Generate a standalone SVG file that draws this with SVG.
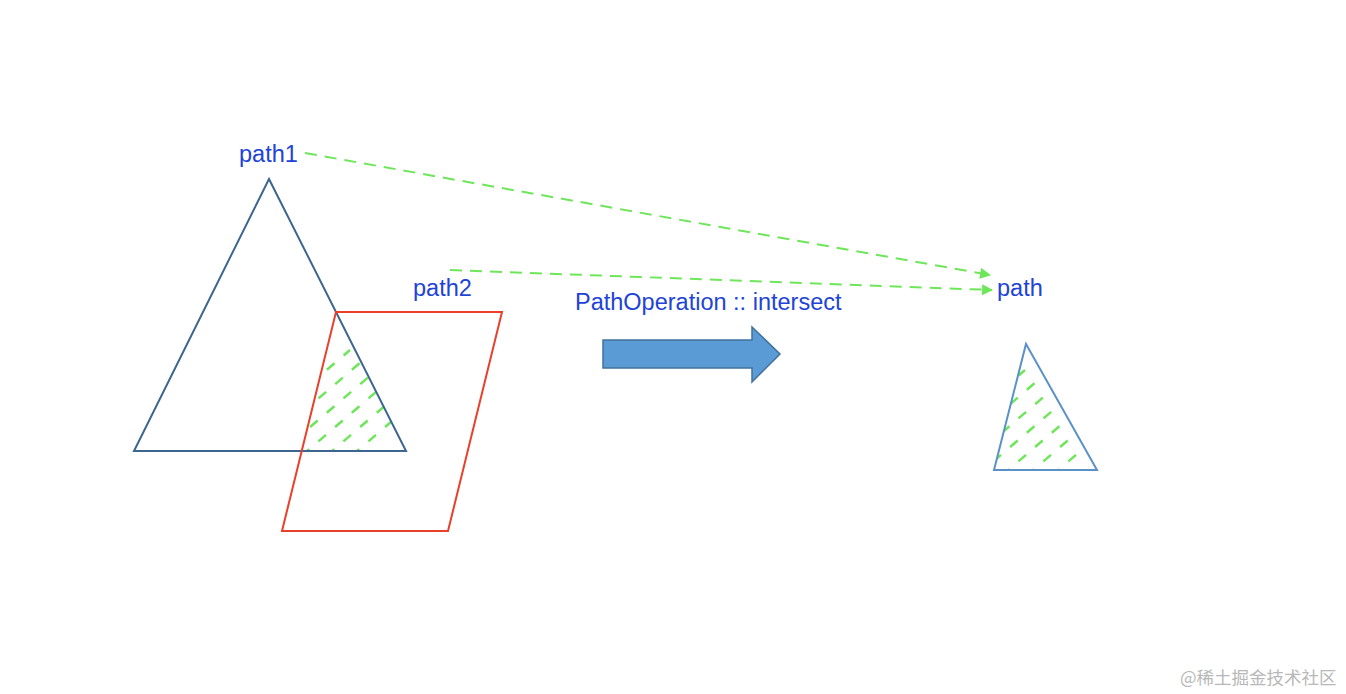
<svg xmlns="http://www.w3.org/2000/svg" width="1346" height="694" viewBox="0 0 1346 694">
<style>
.lbl{font-family:"Liberation Sans",Arial,sans-serif;font-size:23.5px;fill:#2143d6}
.hatch{stroke:#6ee65a;stroke-width:2.5;stroke-dasharray:10 12;fill:none}
.conn{stroke:#6ee65a;stroke-width:2;stroke-dasharray:12 8;fill:none}
</style>
<defs>
<marker id="ah" viewBox="0 0 10 10" refX="9" refY="5" markerWidth="12" markerHeight="11" orient="auto" markerUnits="userSpaceOnUse"><path d="M0,0L10,5L0,10z" fill="#6ee65a"/></marker>
<clipPath id="c1"><polygon points="336,312 406,451 302,451"/></clipPath>
<clipPath id="c2"><polygon points="1026,344 1097,470 994,470"/></clipPath>
</defs>
<rect width="1346" height="694" fill="#fff"/>
<g id="hatch1" clip-path="url(#c1)">
<g class="hatch">
<line x1="260" y1="470" x2="400" y2="350"/><line x1="285" y1="470" x2="425" y2="350"/><line x1="310" y1="470" x2="450" y2="350"/><line x1="335" y1="470" x2="475" y2="350"/><line x1="235" y1="470" x2="375" y2="350"/><line x1="210" y1="470" x2="350" y2="350"/><line x1="185" y1="470" x2="325" y2="350"/>
</g></g>
<g id="hatch2" clip-path="url(#c2)">
<g class="hatch">
<line x1="960" y1="490" x2="1100" y2="370"/><line x1="985" y1="490" x2="1125" y2="370"/><line x1="1010" y1="490" x2="1150" y2="370"/><line x1="1035" y1="490" x2="1175" y2="370"/><line x1="935" y1="490" x2="1075" y2="370"/><line x1="910" y1="490" x2="1050" y2="370"/><line x1="885" y1="490" x2="1025" y2="370"/>
</g></g>
<g id="path1"><polygon points="269,179 406,451 134,451" fill="none" stroke="#3c6690" stroke-width="2"/><text class="lbl" x="239" y="162">path1</text></g>
<g id="path2"><polygon points="336,312 502,312 448,531 282,531" fill="none" stroke="#e8402a" stroke-width="2"/><text class="lbl" x="413" y="296">path2</text></g>
<g id="op"><polygon points="603,340 752,340 752,327 780,354 752,382 752,368 603,368" fill="#5b9bd5" stroke="#41719c" stroke-width="1.5"/><text class="lbl" x="575" y="310">PathOperation :: intersect</text></g>
<g id="result"><polygon points="1026,344 1097,470 994,470" fill="none" stroke="#5a92c8" stroke-width="2"/><text class="lbl" x="997" y="296">path</text></g>
<g id="connectors">
<line class="conn" x1="305" y1="153" x2="990" y2="275" marker-end="url(#ah)"/>
<line class="conn" x1="450" y1="270" x2="992" y2="290" marker-end="url(#ah)"/>
</g>
<text x="1180" y="684" font-family="'Noto Sans CJK SC',sans-serif" font-size="17.5" fill="#b8b8b8">@稀土掘金技术社区</text>
</svg>
